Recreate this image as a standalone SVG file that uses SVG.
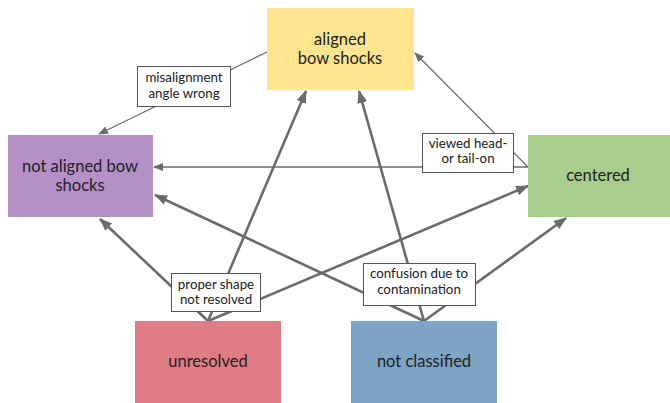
<svg xmlns="http://www.w3.org/2000/svg" width="670" height="403" viewBox="0 0 670 403">
<style>
.node text{font-family:Lato,"Open Sans",sans-serif;font-size:16.5px;fill:#222;text-anchor:middle}
.lbl rect{fill:#fff;stroke:#555;stroke-width:1}
.lbl text{font-family:Lato,"Open Sans",sans-serif;font-size:13.3px;fill:#222;text-anchor:middle}
.thin{stroke:#6b6b6b;stroke-width:1.3;fill:none;marker-end:url(#ah1)}
.thick{stroke:#6b6b6b;stroke-width:2.6;fill:none;marker-end:url(#ah2)}
</style>
<defs>
<marker id="ah1" markerUnits="userSpaceOnUse" markerWidth="10" markerHeight="8" refX="9" refY="4" orient="auto"><path d="M0,0 L10,4 L0,8 z" fill="#6b6b6b"/></marker>
<marker id="ah2" markerUnits="userSpaceOnUse" markerWidth="13" markerHeight="10" refX="12" refY="5" orient="auto"><path d="M0,0 L13,5 L0,10 z" fill="#6b6b6b"/></marker>
</defs>
<rect width="670" height="403" fill="#fff"/>
<g id="connectors">
<path class="thin" d="M267,52 L99,134"/>
<path class="thin" d="M528,167 L415,53"/>
<path class="thin" d="M528,167 L154,167"/>
<path class="thick" d="M208,321 L100,219"/>
<path class="thick" d="M208,321 L306,91"/>
<path class="thick" d="M208,321 L528,186"/>
<path class="thick" d="M424,321 L155,195"/>
<path class="thick" d="M424,321 L359,91"/>
<path class="thick" d="M424,321 L566,218"/>
</g>
<g id="aligned" class="node"><rect x="267" y="8" width="147" height="82" fill="#FFE58F"/><text x="340" y="45">aligned</text><text x="340" y="64">bow shocks</text></g>
<g id="notaligned" class="node"><rect x="8" y="135" width="145" height="82" fill="#B48FC8"/><text x="80" y="172">not aligned bow</text><text x="80" y="191">shocks</text></g>
<g id="centered" class="node"><rect x="528" y="135" width="142" height="82" fill="#AACC8C"/><text x="598" y="181">centered</text></g>
<g id="unresolved" class="node"><rect x="135" y="321" width="146" height="82" fill="#E07C83"/><text x="208" y="367">unresolved</text></g>
<g id="notclassified" class="node"><rect x="351" y="321" width="146" height="82" fill="#7EA3C4"/><text x="424" y="367">not classified</text></g>
<g id="lbl-misalign" class="lbl"><rect x="137.5" y="66.5" width="93" height="40"/><text x="184" y="82">misalignment</text><text x="184" y="98">angle wrong</text></g>
<g id="lbl-viewed" class="lbl"><rect x="422.5" y="133.5" width="91" height="39"/><text x="468" y="148">viewed head-</text><text x="468" y="163">or tail-on</text></g>
<g id="lbl-proper" class="lbl"><rect x="171.5" y="273.5" width="89" height="38"/><text x="216" y="289">proper shape</text><text x="216" y="304">not resolved</text></g>
<g id="lbl-confusion" class="lbl"><rect x="363.5" y="263.5" width="112" height="42"/><text x="419" y="278">confusion due to</text><text x="419" y="294">contamination</text></g>
</svg>
